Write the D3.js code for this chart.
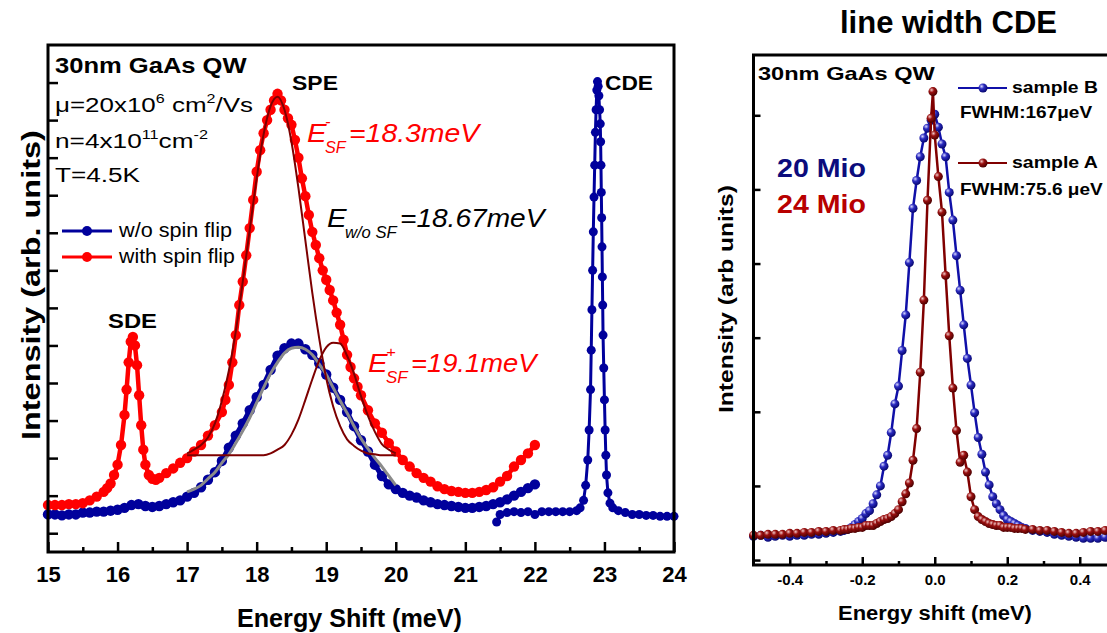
<!DOCTYPE html>
<html>
<head>
<meta charset="utf-8">
<script src="https://cdn.jsdelivr.net/npm/d3@7"></script>
<style>
  body { margin: 0; background: #fff; }
  svg { display: block; }
  text { font-family: Arial, "Liberation Sans", sans-serif; }
  .axis path { display: none; }
  .axis line { stroke: #000; stroke-width: 2.5; }
  .axis text { font-weight: bold; fill: #000; font-family: Arial, "Liberation Sans", sans-serif; }
</style>
</head>
<body>
<svg id="fig" width="1107" height="633"></svg>
<script>
// ---------- left panel: Raman spectra, energy shift (meV) vs intensity (arb. units)
const xTicksL = [15, 16, 17, 18, 19, 20, 21, 22, 23, 24];
const xMinorL = [15.5, 16.5, 17.5, 18.5, 19.5, 20.5, 21.5, 22.5, 23.5];
const yTicksL = [20, 60, 100, 140, 180, 220, 260, 300, 340, 380, 420, 460, 500];

// with spin flip (red)
const redE = [15.0,15.1,15.2,15.3,15.4,15.5,15.6,15.7,15.8,15.85,15.9,15.95,16.0,16.05,16.1,16.13,16.16,16.19,16.22,16.25,16.28,16.31,16.34,16.37,16.4,16.45,16.5,16.55,16.6,16.7,16.8,16.9,
  17.0,17.1,17.2,17.3,17.4,17.5,17.55,17.6,17.65,17.7,17.75,17.8,17.85,17.9,17.95,18.0,18.05,18.1,18.15,18.2,18.25,18.3,18.35,18.4,18.45,18.5,18.55,18.6,18.65,18.7,18.75,18.8,18.85,18.9,18.95,
  19.0,19.05,19.1,19.15,19.2,19.25,19.3,19.35,19.4,19.45,19.5,19.6,19.7,19.8,19.9,20.0,20.1,20.2,20.3,20.4,20.5,20.6,20.7,20.8,20.9,21.0,21.1,21.2,21.3,21.4,21.5,21.6,21.7,21.8,21.9,22.0];
const redI = [50,50,50,51,51,52,55,59,64,68,73,82,93,114,146,173,202,224,229,220,199,167,135,109,93,82,78,77,79,84,89,95,
  100,107,114,124,135,149,162,178,202,231,263,288,316,345,375,405,428,446,460,471,481,488,481,471,462,455,439,420,398,379,359,341,327,313,300,
  290,279,268,255,242,226,210,197,185,176,167,151,137,127,116,107,98,91,84,79,75,70,67,65,64,63,63,64,66,69,75,81,91,98,105,114];

// without spin flip (blue), first scan
const blueAE = [15.0,15.1,15.2,15.3,15.4,15.5,15.6,15.7,15.8,15.9,16.0,16.1,16.2,16.3,16.4,16.5,16.6,16.7,16.8,16.9,
  17.0,17.1,17.2,17.3,17.4,17.5,17.6,17.7,17.8,17.9,18.0,18.1,18.2,18.3,18.4,18.5,18.6,18.7,18.8,18.9,
  19.0,19.1,19.2,19.3,19.4,19.5,19.6,19.7,19.8,19.9,20.0,20.1,20.2,20.3,20.4,20.5,20.6,20.7,20.8,20.9,
  21.0,21.1,21.2,21.3,21.4,21.5,21.6,21.7,21.8,21.9,22.0];
const blueAI = [40,40,39,40,40,42,42,43,43,44,45,47,50,51,49,48,49,51,53,55,
  59,63,69,77,85,97,111,124,137,151,165,178,194,209,217,222,222,216,210,201,
  189,175,162,149,134,119,107,93,81,72,67,63,60,58,55,53,51,50,49,48,
  47,47,48,49,51,53,56,60,64,68,72];

// without spin flip (blue), second scan with the CDE line
const blueBE = [21.45,21.5,21.6,21.7,21.8,21.9,22.0,22.1,22.2,22.3,22.4,22.5,22.6,22.65,22.7,22.73,22.76,22.78,
  22.8,22.81,22.82,22.83,22.84,22.85,22.86,22.87,22.88,22.89,22.9,22.91,22.92,22.93,22.94,
  22.945,22.95,22.955,22.96,22.965,22.97,22.975,22.98,22.99,23.0,23.01,23.02,23.03,23.05,23.08,23.12,
  23.2,23.3,23.4,23.5,23.6,23.7,23.8,23.9,24.0];
const blueBI = [32,40,42,43,42,43,40,43,43,43,43,43,44,47,55,71,98,130,
  173,215,258,300,341,378,412,447,471,492,501,496,486,471,456,
  437,412,383,356,325,293,263,231,196,162,130,103,82,63,52,47,
  44,42,40,40,39,39,38,38,38];

// fits, 17 - 20 meV
const fitE = [17.0,17.1,17.2,17.3,17.4,17.5,17.6,17.7,17.8,17.9,18.0,18.1,18.2,18.3,18.4,18.5,18.6,18.7,18.8,18.9,
  19.0,19.1,19.2,19.3,19.4,19.5,19.6,19.7,19.8,19.9,20.0];
const fitGray = [64,67,71,78,85,95,104,116,129,143,159,175,190,202,212,217,218,216,210,200,189,175,161,148,134,121,110,100,91,81,71];
const fitMinus = [105,109,114,122,137,161,193,235,288,343,398,445,475,485,471,437,388,332,276,227,185,155,134,120,113,108,105,104,103,103,103];
const fitPlus = [103,103,103,103,103,103,103,103,103,103,103,103,105,109,114,125,141,162,184,204,218,223,222,209,190,166,145,128,115,109,105];

// ---------- right panel: line width of the CDE
const xTicksR = [-0.4, -0.2, 0, 0.2, 0.4];
const xMinorR = [-0.3, -0.1, 0.1, 0.3];
const yTicksR = [0, 75, 150, 225, 300, 375, 450];

const sampleBE = [-0.5,-0.48,-0.46,-0.44,-0.42,-0.4,-0.38,-0.36,-0.34,-0.32,-0.3,-0.28,-0.26,
  -0.25,-0.24,-0.23,-0.22,-0.21,-0.2,-0.19,-0.18,-0.17,-0.16,-0.15,-0.14,-0.13,-0.12,-0.11,-0.1,-0.09,-0.08,-0.07,-0.06,-0.05,-0.04,-0.03,-0.02,-0.01,
  0,0.01,0.02,0.03,0.04,0.05,0.06,0.07,0.08,0.09,0.1,0.11,0.12,0.13,0.14,0.15,0.16,0.17,0.18,0.19,0.2,0.21,0.22,0.23,0.24,0.25,
  0.27,0.29,0.31,0.33,0.35,0.37,0.39,0.41,0.43,0.45,0.47,0.49];
const sampleBI = [24,25,23,24,25,24,25,25,26,26,27,28,29,
  30,31,33,36,39,42,47,50,57,66,75,95,106,129,158,176,212,248,301,356,384,408,427,437,445,
  451,438,421,408,372,344,308,273,238,204,177,149,124,107,89,76,64,57,51,45,41,39,37,35,33,32,
  30,29,28,26,25,24,23,22,22,22,23,24];

const sampleAE = [-0.5,-0.48,-0.46,-0.44,-0.42,-0.4,-0.38,-0.36,-0.34,-0.32,-0.3,-0.28,-0.26,
  -0.25,-0.24,-0.23,-0.22,-0.21,-0.2,-0.19,-0.18,-0.17,-0.16,-0.15,-0.14,-0.13,-0.12,-0.11,-0.1,-0.09,-0.08,-0.07,-0.06,-0.05,-0.04,-0.03,-0.02,-0.01,-0.005,
  0,0.01,0.02,0.03,0.04,0.05,0.06,0.07,0.08,0.09,0.1,0.11,0.12,0.13,0.14,0.15,0.16,0.17,0.18,0.19,0.2,0.21,0.22,0.23,0.24,0.25,
  0.27,0.29,0.31,0.33,0.35,0.37,0.39,0.41,0.43,0.45,0.47,0.49];
const sampleAI = [25,25,26,26,26,27,27,28,28,29,29,30,30,
  31,31,32,32,33,33,35,35,35,37,39,41,42,44,47,51,59,67,78,101,133,190,263,364,447,474,
  430,388,352,288,227,174,131,99,106,89,64,51,44,41,39,37,36,35,35,33,33,33,32,32,32,31,
  31,30,30,29,28,27,27,28,29,29,30,30];

const BLUE = '#00009c', RED = '#ff0000', MAROON = '#7d0000';

const svg = d3.select('#fig');
const defs = svg.append('defs');

function ball(id, hi, mid, dark) {
  const g = defs.append('radialGradient').attr('id', id)
    .attr('cx', '35%').attr('cy', '32%').attr('r', '70%');
  g.append('stop').attr('offset', '0%').attr('stop-color', hi);
  g.append('stop').attr('offset', '40%').attr('stop-color', mid);
  g.append('stop').attr('offset', '100%').attr('stop-color', dark);
}
ball('ballB', '#d8d8ff', '#2b2bc0', '#06066e');
ball('ballA', '#f2c8c8', '#9a1010', '#4a0000');

// text at (x, y); stretched horizontally to width w (or by factor s)
function putText(parent, x, y, opt, build) {
  const g = parent.append('g').attr('transform', `translate(${x},${y})${opt.rot ? ' rotate(-90)' : ''}`);
  const t = g.append('text');
  build(t);
  const b = t.node().getBBox();
  const s = opt.w ? opt.w / b.width : (opt.s || 1);
  t.attr('transform', `scale(${s},1) translate(${-b.x},0)`);
  return g;
}

function drawSeries(g, xs, ys, E, I, color, r, lw, fill) {
  const pts = E.map((e, i) => [e, I[i]]);
  g.append('path').datum(pts)
    .attr('fill', 'none').attr('stroke', color).attr('stroke-width', lw)
    .attr('stroke-linejoin', 'round')
    .attr('d', d3.line().x(d => xs(d[0])).y(d => ys(d[1])));
  g.append('g').selectAll('circle').data(pts).join('circle')
    .attr('cx', d => xs(d[0])).attr('cy', d => ys(d[1]))
    .attr('r', r).attr('fill', fill || color);
}

// ================= left chart
const L = { left: 48, top: 45, width: 626, height: 507 };
const xL = d3.scaleLinear().domain([15, 24]).range([0, L.width]);
const yL = d3.scaleLinear().domain([0, 540]).range([L.height, 0]);
const left = svg.append('g').attr('transform', `translate(${L.left},${L.top})`);

drawSeries(left, xL, yL, blueAE, blueAI, BLUE, 5.2, 5);
drawSeries(left, xL, yL, blueBE, blueBI, BLUE, 4.5, 3);
drawSeries(left, xL, yL, redE, redI, RED, 5.2, 4.5);

const fitLine = I => d3.line().curve(d3.curveMonotoneX)
  .x((d, i) => xL(fitE[i])).y((d, i) => yL(I[i]))(I);
left.append('path').attr('d', fitLine(fitGray)).attr('fill', 'none').attr('stroke', '#8a8a8a').attr('stroke-width', 3);
left.append('path').attr('d', fitLine(fitMinus)).attr('fill', 'none').attr('stroke', MAROON).attr('stroke-width', 2);
left.append('path').attr('d', fitLine(fitPlus)).attr('fill', 'none').attr('stroke', MAROON).attr('stroke-width', 2);

left.append('g').attr('class', 'axis').attr('transform', `translate(0,${L.height})`)
  .call(d3.axisBottom(xL).tickValues(xTicksL).tickSize(-10).tickPadding(14).tickFormat(d3.format('d')))
  .selectAll('text').style('font-size', '22px');
left.append('g').attr('class', 'axis').attr('transform', `translate(0,${L.height})`)
  .call(d3.axisBottom(xL).tickValues(xMinorL).tickSize(-5).tickFormat(''));
left.append('g').attr('class', 'axis')
  .call(d3.axisLeft(yL).tickValues(yTicksL).tickSize(-10).tickFormat(''));
left.append('rect').attr('width', L.width).attr('height', L.height)
  .attr('fill', 'none').attr('stroke', '#000').attr('stroke-width', 3);

// annotations (page coordinates)
putText(svg, 55, 73, { w: 192 }, t => t.text('30nm GaAs QW').attr('font-size', 22).attr('font-weight', 'bold'));
putText(svg, 55, 112, { w: 198 }, t => {
  t.attr('font-size', 21);
  t.append('tspan').text('\u03bc=20x10');
  t.append('tspan').text('6').attr('font-size', 13).attr('dy', -9);
  t.append('tspan').text(' cm').attr('dy', 9);
  t.append('tspan').text('2').attr('font-size', 13).attr('dy', -9);
  t.append('tspan').text('/Vs').attr('dy', 9);
});
putText(svg, 55, 148, { w: 153 }, t => {
  t.attr('font-size', 21);
  t.append('tspan').text('n=4x10');
  t.append('tspan').text('11').attr('font-size', 13).attr('dy', -9);
  t.append('tspan').text('cm').attr('dy', 9);
  t.append('tspan').text('-2').attr('font-size', 13).attr('dy', -9);
});
putText(svg, 55, 182, { w: 85 }, t => t.text('T=4.5K').attr('font-size', 21));

// legend
[[231, 237, BLUE, 'w/o spin flip', 114], [257, 263, RED, 'with spin flip', 117]].forEach(([ly, ty, c, label, w]) => {
  svg.append('line').attr('x1', 62).attr('x2', 112).attr('y1', ly).attr('y2', ly).attr('stroke', c).attr('stroke-width', 3);
  svg.append('circle').attr('cx', 87).attr('cy', ly).attr('r', 5).attr('fill', c);
  putText(svg, 118, ty, { w }, t => t.text(label).attr('font-size', 20));
});

putText(svg, 292, 90, { w: 46 }, t => t.text('SPE').attr('font-size', 21).attr('font-weight', 'bold'));
putText(svg, 605, 90, { w: 48 }, t => t.text('CDE').attr('font-size', 21).attr('font-weight', 'bold'));
putText(svg, 108, 328, { w: 49 }, t => t.text('SDE').attr('font-size', 21).attr('font-weight', 'bold'));

function energyLabel(x, y, color, sup, sub, subW, value, valW) {
  putText(svg, x, y, { w: 20 }, t => t.text('E').attr('font-size', 25).attr('font-style', 'italic').attr('fill', color));
  if (sup) putText(svg, x + 18, y - 15, { s: 1.1 }, t => t.text(sup).attr('font-size', 15).attr('font-style', 'italic').attr('fill', color));
  putText(svg, x + 18, y + 11, { w: subW }, t => t.text(sub).attr('font-size', 16).attr('font-style', 'italic').attr('fill', color));
  putText(svg, x + 20 + subW, y, { w: valW }, t => t.text(value).attr('font-size', 25).attr('font-style', 'italic').attr('fill', color));
}
energyLabel(307, 142, RED, '-', 'SF', 22, '=18.3meV', 133);
energyLabel(327, 227, '#000', null, 'w/o SF', 53, '=18.67meV', 147);
energyLabel(368, 372, RED, '+', 'SF', 23, '=19.1meV', 128);

putText(svg, 237, 627, { w: 225 }, t => t.text('Energy Shift (meV)').attr('font-size', 25).attr('font-weight', 'bold'));
putText(svg, 40, 440, { w: 310, rot: true }, t => t.text('Intensity (arb. units)').attr('font-size', 25).attr('font-weight', 'bold'));

// ================= right chart
const R = { left: 753.5, top: 55, width: 362.5, height: 510 };
const xR = d3.scaleLinear().domain([-0.5, 0.5]).range([0, R.width]);
const yR = d3.scaleLinear().domain([-5, 511]).range([R.height, 0]);
const right = svg.append('g').attr('transform', `translate(${R.left},${R.top})`);

drawSeries(right, xR, yR, sampleBE, sampleBI, '#1010a8', 4.5, 2.5, 'url(#ballB)');
drawSeries(right, xR, yR, sampleAE, sampleAI, '#800000', 4.5, 2.5, 'url(#ballA)');

right.append('g').attr('class', 'axis').attr('transform', `translate(0,${R.height})`)
  .call(d3.axisBottom(xR).tickValues(xTicksR).tickSize(-8).tickPadding(9).tickFormat(d => d.toFixed(1)))
  .selectAll('text').style('font-size', '15px');
right.append('g').attr('class', 'axis').attr('transform', `translate(0,${R.height})`)
  .call(d3.axisBottom(xR).tickValues(xMinorR).tickSize(-4).tickFormat(''));
right.append('g').attr('class', 'axis')
  .call(d3.axisLeft(yR).tickValues(yTicksR).tickSize(-7).tickFormat(''));
right.append('rect').attr('width', R.width).attr('height', R.height)
  .attr('fill', 'none').attr('stroke', '#000').attr('stroke-width', 3);

putText(svg, 840, 33, { w: 217 }, t => t.text('line width CDE').attr('font-size', 31).attr('font-weight', 'bold'));
putText(svg, 758, 80, { w: 177 }, t => t.text('30nm GaAs QW').attr('font-size', 18).attr('font-weight', 'bold'));

[[88, 93, '#1010a8', 'url(#ballB)', 'sample B'], [163, 168, '#800000', 'url(#ballA)', 'sample A']].forEach(([ly, ty, c, f, label]) => {
  svg.append('line').attr('x1', 958).attr('x2', 1007).attr('y1', ly).attr('y2', ly).attr('stroke', c).attr('stroke-width', 2);
  svg.append('circle').attr('cx', 983).attr('cy', ly).attr('r', 4.5).attr('fill', f);
  putText(svg, 1012, ty, { w: 86 }, t => t.text(label).attr('font-size', 17).attr('font-weight', 'bold'));
});
putText(svg, 960, 118, { w: 133 }, t => t.text('FWHM:167\u03bceV').attr('font-size', 17).attr('font-weight', 'bold'));
putText(svg, 960, 195, { s: 1.12 }, t => t.text('FWHM:75.6 \u03bceV').attr('font-size', 17).attr('font-weight', 'bold'));

putText(svg, 777, 177, { w: 89 }, t => t.text('20 Mio').attr('font-size', 25).attr('font-weight', 'bold')
  .attr('font-family', 'Lato, "Open Sans", sans-serif').attr('fill', '#0c0c7c'));
putText(svg, 777, 213, { w: 89 }, t => t.text('24 Mio').attr('font-size', 25).attr('font-weight', 'bold')
  .attr('font-family', 'Lato, "Open Sans", sans-serif').attr('fill', '#b80000'));

putText(svg, 838, 620, { w: 194 }, t => t.text('Energy shift (meV)').attr('font-size', 21).attr('font-weight', 'bold'));
putText(svg, 733, 413, { w: 228, rot: true }, t => t.text('Intensity  (arb units)').attr('font-size', 20).attr('font-weight', 'bold'));
</script>
</body>
</html>
